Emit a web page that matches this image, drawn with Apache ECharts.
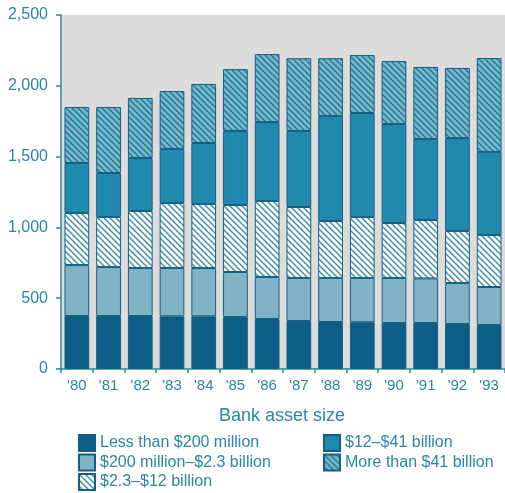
<!DOCTYPE html>
<html>
<head>
<meta charset="utf-8">
<script src="https://cdn.jsdelivr.net/npm/echarts@6/dist/echarts.min.js"></script>
<style>
  html, body { margin: 0; padding: 0; background: #ffffff; }
  #chart { width: 505px; height: 493px; }
</style>
</head>
<body>
<div id="chart"></div>
<script>
// Commercial bank counts by asset size, 1980-1993
const years = ["'80", "'81", "'82", "'83", "'84", "'85", "'86", "'87", "'88", "'89", "'90", "'91", "'92", "'93"];
const yTicks = [0, 500, 1000, 1500, 2000, 2500];

const lessThan200M = [374, 374, 374, 372, 372, 367, 353, 339, 332, 330, 325, 325, 318, 311];
const from200Mto2_3B = [360, 346, 339, 341, 341, 318, 297, 304, 311, 313, 318, 315, 289, 268];
const from2_3to12B = [368, 353, 403, 459, 452, 473, 536, 501, 402, 430, 388, 412, 368, 367];
const from12to41B = [353, 311, 374, 382, 431, 523, 558, 537, 742, 735, 699, 572, 656, 587];
const moreThan41B = [395, 466, 424, 409, 417, 437, 480, 514, 408, 409, 445, 509, 495, 663];

const seriesNames = [
  'Less than $200 million',
  '$200 million\u2013$2.3 billion',
  '$2.3\u2013$12 billion',
  '$12\u2013$41 billion',
  'More than $41 billion'
];

const TEXT = '#2b86a4';
const EDGE = '#145f80';
const FONT = 'Liberation Sans, Arial, sans-serif';

// Diagonal "\" hatch tile
function hatch(bg, line) {
  const s = 6;
  const c = document.createElement('canvas');
  c.width = s; c.height = s;
  const g = c.getContext('2d');
  g.fillStyle = bg;
  g.fillRect(0, 0, s, s);
  g.strokeStyle = line;
  g.lineWidth = 1.4;
  g.beginPath();
  g.moveTo(-1, -1); g.lineTo(s + 1, s + 1);
  g.moveTo(-1, s - 1); g.lineTo(1, s + 1);
  g.moveTo(s - 1, -1); g.lineTo(s + 1, 1);
  g.stroke();
  return { image: c, repeat: 'repeat' };
}

const fills = [
  '#0c5e86',
  '#80b3c5',
  hatch('#ffffff', '#3f8ca7'),
  '#2089ae',
  hatch('#78b6ca', '#1f7a9b')
];

const dataSets = [lessThan200M, from200Mto2_3B, from2_3to12B, from12to41B, moreThan41B];

const chart = echarts.init(document.getElementById('chart'), null, { renderer: 'canvas' });

const series = dataSets.map((d, i) => ({
  name: seriesNames[i],
  type: 'bar',
  stack: 'banks',
  data: d,
  barCategoryGap: '22%',
  itemStyle: { color: fills[i], borderColor: EDGE, borderWidth: 1 },
  emphasis: { disabled: true }
}));

const legendText = { color: TEXT, fontSize: 16, lineHeight: 16, fontFamily: FONT };
const legendBase = {
  orient: 'vertical',
  top: 434,
  height: 80,
  itemWidth: 16,
  itemHeight: 16,
  itemGap: 1.5,
  padding: 0,
  icon: 'rect',
  selectedMode: false,
  textStyle: legendText
};

chart.setOption({
  animation: false,
  backgroundColor: '#ffffff',
  title: {
    text: 'Bank asset size',
    left: 282,
    top: 407,
    padding: 0,
    textAlign: 'center',
    textStyle: { color: TEXT, fontSize: 18, fontWeight: 'normal', fontFamily: FONT }
  },
  legend: [
    Object.assign({ data: [seriesNames[0], seriesNames[1], seriesNames[2]], left: 78 }, legendBase),
    Object.assign({ data: [seriesNames[3], seriesNames[4]], left: 323 }, legendBase)
  ],
  grid: {
    left: 61,
    right: -5,
    top: 15,
    bottom: 124,
    show: true,
    backgroundColor: '#dedcdb',
    borderWidth: 0
  },
  xAxis: {
    type: 'category',
    data: years,
    axisLine: { lineStyle: { color: TEXT, width: 1.5 } },
    axisTick: { show: true, length: 4, lineStyle: { color: TEXT, width: 1.5 } },
    axisLabel: { color: TEXT, fontSize: 15, margin: 9, fontFamily: FONT }
  },
  yAxis: {
    type: 'value',
    min: yTicks[0],
    max: yTicks[yTicks.length - 1],
    interval: yTicks[1] - yTicks[0],
    axisLine: { show: true, lineStyle: { color: TEXT, width: 1.5 } },
    axisTick: { show: true, length: 5, lineStyle: { color: TEXT, width: 1.5 } },
    splitLine: { show: false },
    axisLabel: {
      color: TEXT,
      fontSize: 16,
      margin: 13,
      fontFamily: FONT,
      formatter: v => v.toLocaleString('en-US')
    }
  },
  series: series
});
</script>
</body>
</html>
